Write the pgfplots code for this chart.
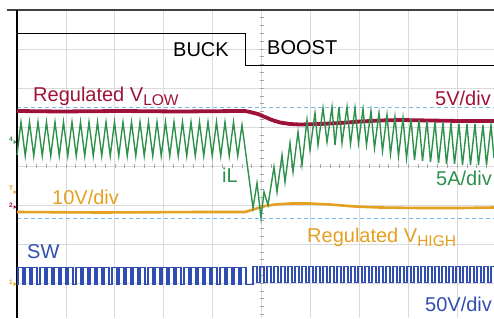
\documentclass[border=0pt]{standalone}
\usepackage{pgfplots}
\pgfplotsset{compat=1.18}
\usepackage{fontspec}
\setmainfont{Liberation Sans}
\definecolor{vlow}{RGB}{158,18,58}
\definecolor{il}{RGB}{45,145,75}
\definecolor{vhigh}{RGB}{228,160,32}
\definecolor{sw}{RGB}{48,78,178}
\definecolor{refb}{RGB}{120,185,235}
\definecolor{gridc}{RGB}{218,218,218}
\newcommand\lbl{\fontsize{20}{23}\selectfont}
\newcommand\sub{\fontsize{15.5}{18}\selectfont}
\begin{document}
\begin{tikzpicture}
\begin{scope}[x=1pt,y=-1pt]
\foreach \gx in {65.9,114.8,163.7,212.6,261.5,310.4,359.3,408.2,457.1}
  \draw[gridc,line width=0.8pt] (\gx,10) -- (\gx,318);
\foreach \gy in {49,88,127,166,205,244,283}
  \draw[gridc,line width=0.8pt] (17,\gy) -- (494,\gy);
\foreach \k in {1,...,49} {\pgfmathsetmacro\tx{17+9.78*\k}
  \draw[black!35,line width=0.6pt] (\tx,164) -- (\tx,168);}
\foreach \k in {1,...,39} {\pgfmathsetmacro\ty{10+7.8*\k}
  \draw[black!35,line width=0.6pt] (259.5,\ty) -- (263.5,\ty);}
\draw[refb,dash pattern=on 4pt off 3pt,line width=0.9pt] (17,107) -- (494,107);
\draw[refb,dash pattern=on 4pt off 3pt,line width=0.9pt] (17,218) -- (494,218);
\draw[black!75,line width=1.4pt] (7,10) -- (494,10);
\draw[black,line width=1.4pt] (17,10) -- (17,318);
\draw[black,line width=0.9pt] (17,33) -- (245.5,33) -- (245.5,65.5) -- (494,65.5);
\end{scope}
\begin{axis}[at={(0pt,0pt)}, anchor=north west, x=1pt, y=1pt, y dir=reverse,
  xmin=0, xmax=494, ymin=0, ymax=318, hide axis, clip=true]
% SW
\addplot[sw, line width=1.9pt, const plot, line join=miter] coordinates {
(17,284.5)(18,267.5)(23,284.5)(25.2,267.5)(30.2,284.5)(32.4,267.5)(37.4,284.5)
(39.6,267.5)(44.6,284.5)(46.8,267.5)(51.8,284.5)(54,267.5)(59,284.5)
(61.2,267.5)(66.2,284.5)(68.4,267.5)(73.4,284.5)(75.6,267.5)(80.6,284.5)
(82.8,267.5)(87.8,284.5)(90,267.5)(95,284.5)(97.2,267.5)(102.2,284.5)
(104.4,267.5)(109.4,284.5)(111.6,267.5)(116.6,284.5)(118.8,267.5)(123.8,284.5)
(126,267.5)(131,284.5)(133.2,267.5)(138.2,284.5)(140.4,267.5)(145.4,284.5)
(147.6,267.5)(152.6,284.5)(154.8,267.5)(159.8,284.5)(162,267.5)(167,284.5)
(169.2,267.5)(174.2,284.5)(176.4,267.5)(181.4,284.5)(183.6,267.5)(188.6,284.5)
(190.8,267.5)(195.8,284.5)(198,267.5)(203,284.5)(205.2,267.5)(210.2,284.5)
(212.4,267.5)(217.4,284.5)(219.6,267.5)(224.6,284.5)(226.8,267.5)(231.8,284.5)
(234,267.5)(239,284.5)(241.2,267.5)(246.2,284.5)
(253,266.5)(257,282.5)(260,266.5)(264,282.5)(267,266.5)(271,282.5)
(274,266.5)(278,282.5)(281,266.5)(285,282.5)(288,266.5)(292,282.5)
(295,266.5)(299,282.5)(302,266.5)(306,282.5)(309,266.5)(313,282.5)
(316,266.5)(320,282.5)(323,266.5)(327,282.5)(330,266.5)(334,282.5)
(337,266.5)(341,282.5)(344,266.5)(348,282.5)(351,266.5)(355,282.5)
(358,266.5)(362,282.5)(365,266.5)(369,282.5)(372,266.5)(376,282.5)
(379,266.5)(383,282.5)(386,266.5)(390,282.5)(393,266.5)(397,282.5)
(400,266.5)(404,282.5)(407,266.5)(411,282.5)(414,266.5)(418,282.5)
(421,266.5)(425,282.5)(428,266.5)(432,282.5)(435,266.5)(439,282.5)
(442,266.5)(446,282.5)(449,266.5)(453,282.5)(456,266.5)(460,282.5)
(463,266.5)(467,282.5)(470,266.5)(474,282.5)(477,266.5)(481,282.5)
(484,266.5)(488,282.5)(491,266.5)(494,266.5)};
% V_HIGH
\addplot[vhigh, line width=2.6pt] coordinates {
(17,212)(100,212.5)(200,212)(245,212)(250,210.5)(258,208)(265,206)(275,204.5)
(290,203.5)(310,203.5)(330,204.5)(355,206.5)(380,207.5)(420,208)(460,208)(494,207.5)};
% V_LOW
\addplot[vlow, line width=3.8pt] coordinates {
(17,111)(60,111.5)(120,111)(180,111.5)(240,111)(245,111)(250,112)(258,114)
(265,117)(272,120)(280,122.5)(290,124)(300,124.5)(320,124)(340,123)(360,121.5)
(380,120.5)(400,120)(430,120.5)(460,121)(494,121)};
% iL
\addplot[il, line width=1.4pt] coordinates {
(17,155)(21,122)(25.25,156)(29.5,122)(33.75,156)(38,122)(42.25,156)
(46.5,122)(50.75,156)(55,122)(59.25,156)(63.5,122)(67.75,156)
(72,122)(76.25,156)(80.5,122)(84.75,156)(89,122)(93.25,156)
(97.5,122)(101.75,156)(106,122)(110.25,156)(114.5,122)(118.75,156)
(123,122)(127.25,156)(131.5,122)(135.75,156)(140,122)(144.25,156)
(148.5,122)(152.75,156)(157,122)(161.25,156)(165.5,122)(169.75,156)
(174,122)(178.25,156)(182.5,122)(186.75,156)(191,122)(195.25,156)
(199.5,122)(203.75,156)(208,122)(212.25,156)(216.5,122)(220.75,156)
(225,122)(229.25,156)(233.5,122)(237.75,156)(242,125)
(253,208)(257,183)(261,218)(264,192)(268,205)(274,167)(277,192)(282,155)
(285,182)(290,143)(293,172)(298,132)(302,165)(307,120)(310,150)(315,113)
(318,145)(323,108)(327,142)(332,107)(335,145)(339,107)(342,143)(347,107)
(350.5,144)(355,108)(358.5,143)(363,109)(366.5,145)(371,111)(374.5,148)
(379,113)(382.5,151)(387,115)(390.5,154)(395,117)(398.5,156)(403,118)
(406.5,158)(411,119)(414.5,160)(419,120)(422.5,161)(427,121)(430.5,162)
(435,122)(438.5,163)(443,123)(446.5,164)(451,123)(454.5,164)(459,124)
(462.5,165)(467,124)(470.5,165)(475,124)(478.5,165)(483,125)(486.5,165)
(491,125)(494,158)};
\end{axis}
\begin{scope}[x=1pt,y=-1pt]
\node[anchor=base west,inner sep=0,font=\lbl] at (173,57) {BUCK};
\node[anchor=base west,inner sep=0,font=\lbl] at (267,55) {BOOST};
\node[anchor=base west,inner sep=0,font=\lbl,text=vlow] at (33,101) {Regulated V\raisebox{-4.5pt}{\sub LOW}};
\node[anchor=base west,inner sep=0,font=\lbl,text=vlow] at (435,105) {5V/div};
\node[anchor=base west,inner sep=0,font=\lbl,text=il] at (222,182) {iL};
\node[anchor=base west,inner sep=0,font=\lbl,text=il] at (436,185) {5A/div};
\node[anchor=base west,inner sep=0,font=\lbl,text=vhigh] at (52,204) {10V/div};
\node[anchor=base west,inner sep=0,font=\lbl,text=vhigh] at (307,242) {Regulated V\raisebox{-4.5pt}{\sub HIGH}};
\node[anchor=base west,inner sep=0,font=\lbl,text=sw] at (27,258) {SW};
\node[anchor=base west,inner sep=0,font=\lbl,text=sw] at (425,311) {50V/div};
\node[inner sep=0,font=\fontsize{6.5}{7}\selectfont\bfseries,text=il] at (11,139) {4};
\fill[il] (13.5,140) -- (16.5,142) -- (13.5,144) -- cycle;
\node[inner sep=0,font=\fontsize{6.5}{7}\selectfont\bfseries,text=vhigh] at (11,188) {T};
\fill[vhigh] (13.5,190) -- (16.5,192) -- (13.5,194) -- cycle;
\node[inner sep=0,font=\fontsize{6.5}{7}\selectfont\bfseries,text=vlow] at (11,205) {2};
\fill[vlow] (13.5,205) -- (16.5,207) -- (13.5,209) -- cycle;
\node[inner sep=0,font=\fontsize{6.5}{7}\selectfont\bfseries,text=vhigh] at (11,282) {1};
\fill[vhigh] (13.5,282) -- (16.5,284) -- (13.5,286) -- cycle;
\end{scope}
\pgfresetboundingbox
\path (0,0) rectangle (494pt,-318pt);
\end{tikzpicture}
\end{document}
